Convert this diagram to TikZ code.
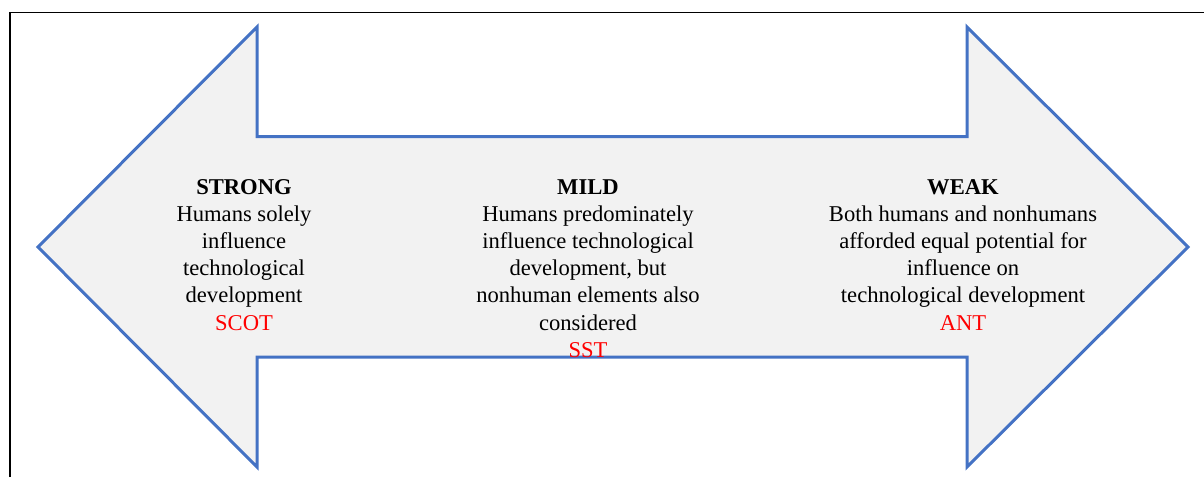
\documentclass[tikz,border=0pt]{standalone}
\usepackage{fontspec}
\setmainfont{Liberation Serif}
\definecolor{arrowfill}{HTML}{F2F2F2}
\definecolor{arrowline}{HTML}{4472C4}
\definecolor{tagred}{HTML}{FF0000}
\begin{document}
\begin{tikzpicture}[x=1pt,y=-1pt,
  block/.style={anchor=north,align=center,inner sep=0pt,
    font=\fontsize{22.6}{27.2}\selectfont},
  tag/.style={text=tagred}]
\useasboundingbox (0,0) rectangle (1204,477);
% outer frame (only top and left edges fall inside the page)
\draw[line width=1.8pt,black] (10,477) -- (10,12.5) -- (1204,12.5);
% double-headed arrow
\draw[arrowline,fill=arrowfill,line width=3pt,line join=miter]
  (38,247) -- (257,27) -- (257,136.5) -- (967,136.5) -- (967,27)
  -- (1188,247) -- (967,467) -- (967,357) -- (257,357) -- (257,467) -- cycle;
% positions along the spectrum
\node[block] (strong) at (244,179) {\textbf{STRONG}\\Humans solely\\influence\\technological\\development\\\textcolor{tagred}{SCOT}};
\node[block] (mild) at (588,179) {\textbf{MILD}\\Humans predominately\\influence technological\\development, but\\nonhuman elements also\\considered\\\textcolor{tagred}{SST}};
\node[block] (weak) at (963,179) {\textbf{WEAK}\\Both humans and nonhumans\\afforded equal potential for\\influence on\\technological development\\\textcolor{tagred}{ANT}};
\end{tikzpicture}
\end{document}
